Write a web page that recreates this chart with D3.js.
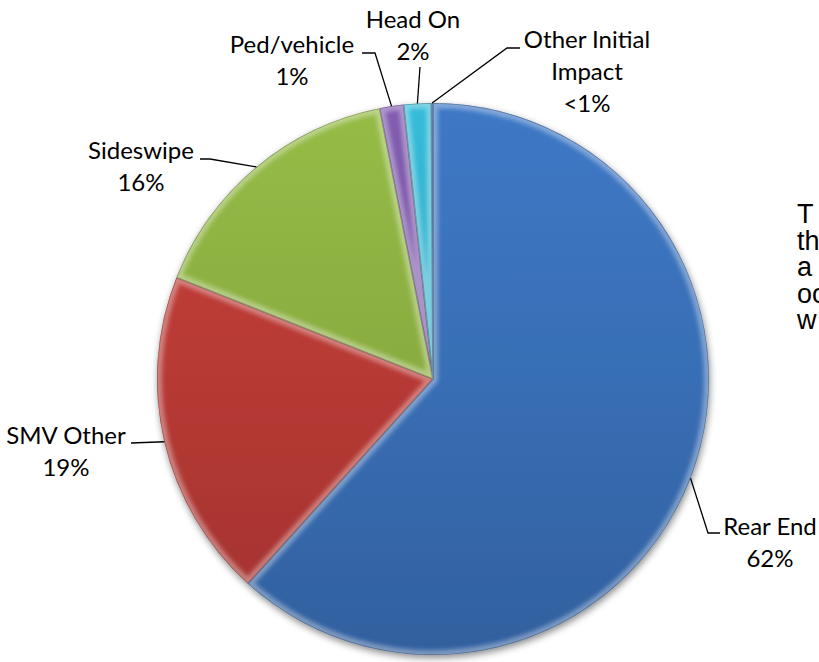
<!DOCTYPE html>
<html>
<head>
<meta charset="utf-8">
<script src="https://cdn.jsdelivr.net/npm/d3@7"></script>
<style>
  html, body { margin: 0; padding: 0; background: #fff; overflow: hidden; }
  svg { display: block; }
</style>
</head>
<body>
<svg id="chart" width="819" height="662"></svg>
<script>
// Collision types and their share of crashes (percent)
const categories = ["Rear End", "SMV Other", "Sideswipe", "Ped/vehicle", "Head On", "Other Initial Impact"];
const shares = [61.7, 19.3, 15.9, 1.4, 1.6, 0.1];
const sliceColors = ["#3A71BA", "#BC3B36", "#8DB042", "#7A56A6", "#33B0CC", "#3A71BA"];
// Label lines as printed beside each slice
const labelLines = [["Rear End"], ["SMV Other"], ["Sideswipe"], ["Ped/vehicle"], ["Head On"], ["Other Initial", "Impact"]];

// Layout: pie geometry and label placement (text centre, first baseline, leader path points)
const cx = 433, cy = 379, radius = 276;
const lineGap = 32;
const labelLayout = [
  { tx: 770, ty: 535, elbow: [708, 533], end: [720, 533] },
  { tx: 66,  ty: 444, elbow: null,       end: [131, 443] },
  { tx: 141, ty: 159, elbow: [210, 159], end: [200, 159] },
  { tx: 292, ty: 53,  elbow: [375, 53],  end: [362, 53] },
  { tx: 413, ty: 28,  elbow: null,       end: [420, 67] },
  { tx: 587, ty: 48,  elbow: [507, 48],  end: [520, 48] }
];
const sideLines = ["T", "th", "a", "oc", "w"];

function pctText(v) {
  return v < 1 ? "<1%" : Math.round(v) + "%";
}

const data = categories.map((c, i) => ({ name: c, value: shares[i], color: sliceColors[i], lines: labelLines[i], layout: labelLayout[i] }));

const svg = d3.select("#chart");
const defs = svg.append("defs");

// soft shadow under the pie
const shadow = defs.append("filter").attr("id", "pieShadow")
  .attr("x", "-10%").attr("y", "-10%").attr("width", "120%").attr("height", "125%");
shadow.append("feDropShadow").attr("dx", 1).attr("dy", 3).attr("stdDeviation", 3.5)
  .attr("flood-color", "#000").attr("flood-opacity", 0.45);

// blur for the bevel rim
defs.append("filter").attr("id", "rimBlur")
  .attr("x", "-5%").attr("y", "-5%").attr("width", "110%").attr("height", "110%")
  .append("feGaussianBlur").attr("stdDeviation", 2.2);

const pie = d3.pie().sort(null).value(d => d.value);
const arcs = pie(data);
const arc = d3.arc().innerRadius(0).outerRadius(radius);

// vertical shading per slice: lighter at the top, darker at the bottom
arcs.forEach((a, i) => {
  const base = d3.color(a.data.color);
  const g = defs.append("linearGradient").attr("id", "grad" + i)
    .attr("gradientUnits", "userSpaceOnUse")
    .attr("x1", 0).attr("y1", -radius).attr("x2", 0).attr("y2", radius);
  g.append("stop").attr("offset", "0%").attr("stop-color", base.brighter(0.18));
  g.append("stop").attr("offset", "55%").attr("stop-color", base.darker(0.1));
  g.append("stop").attr("offset", "100%").attr("stop-color", base.darker(0.45));
  defs.append("clipPath").attr("id", "clip" + i)
    .append("path").attr("d", arc(a));
});

const pieG = svg.append("g").attr("transform", `translate(${cx},${cy})`);
const body = pieG.append("g").attr("filter", "url(#pieShadow)");

body.selectAll("path.slice").data(arcs).join("path")
  .attr("class", "slice")
  .attr("d", arc)
  .attr("fill", (d, i) => `url(#grad${i})`);

// bevelled rim: light inner glow along every slice edge
const rims = pieG.selectAll("g.rim").data(arcs).join("g")
  .attr("class", "rim")
  .attr("clip-path", (d, i) => `url(#clip${i})`);
rims.append("path")
  .attr("d", arc)
  .attr("fill", "none")
  .attr("stroke", "#fff")
  .attr("stroke-opacity", 0.36)
  .attr("stroke-width", 10)
  .attr("filter", "url(#rimBlur)");
rims.append("path")
  .attr("d", arc)
  .attr("fill", "none")
  .attr("stroke", "#000")
  .attr("stroke-opacity", 0.28)
  .attr("stroke-width", 1.6);

// leader lines from the slice edge to its label
const outer = d3.arc().innerRadius(radius).outerRadius(radius);
const leaders = svg.append("g").attr("fill", "none").attr("stroke", "#000").attr("stroke-width", 1.3);
arcs.forEach(a => {
  const L = a.data.layout;
  const p = outer.centroid(a);
  const start = [cx + p[0], cy + p[1]];
  const pts = [start];
  if (L.elbow) pts.push(L.elbow);
  pts.push(L.end);
  leaders.append("path").attr("d", d3.line()(pts));
});

// labels: name lines followed by the percentage
const labels = svg.append("g")
  .attr("font-family", "Lato, 'Open Sans', sans-serif")
  .attr("font-size", 24)
  .attr("fill", "#000")
  .attr("text-anchor", "middle");
arcs.forEach(a => {
  const L = a.data.layout;
  const lines = a.data.lines.concat([pctText(a.data.value)]);
  const t = labels.append("text").attr("x", L.tx).attr("y", L.ty);
  lines.forEach((s, k) => {
    t.append("tspan").attr("x", L.tx).attr("dy", k === 0 ? 0 : lineGap).text(s);
  });
});

// slide text running off the right edge
const side = svg.append("text")
  .attr("x", 797).attr("y", 223)
  .attr("font-family", "'Liberation Sans', Arial, sans-serif")
  .attr("font-size", 27)
  .attr("fill", "#000");
sideLines.forEach((s, k) => {
  side.append("tspan").attr("x", 797).attr("dy", k === 0 ? 0 : 26.5).text(s);
});
</script>
</body>
</html>
